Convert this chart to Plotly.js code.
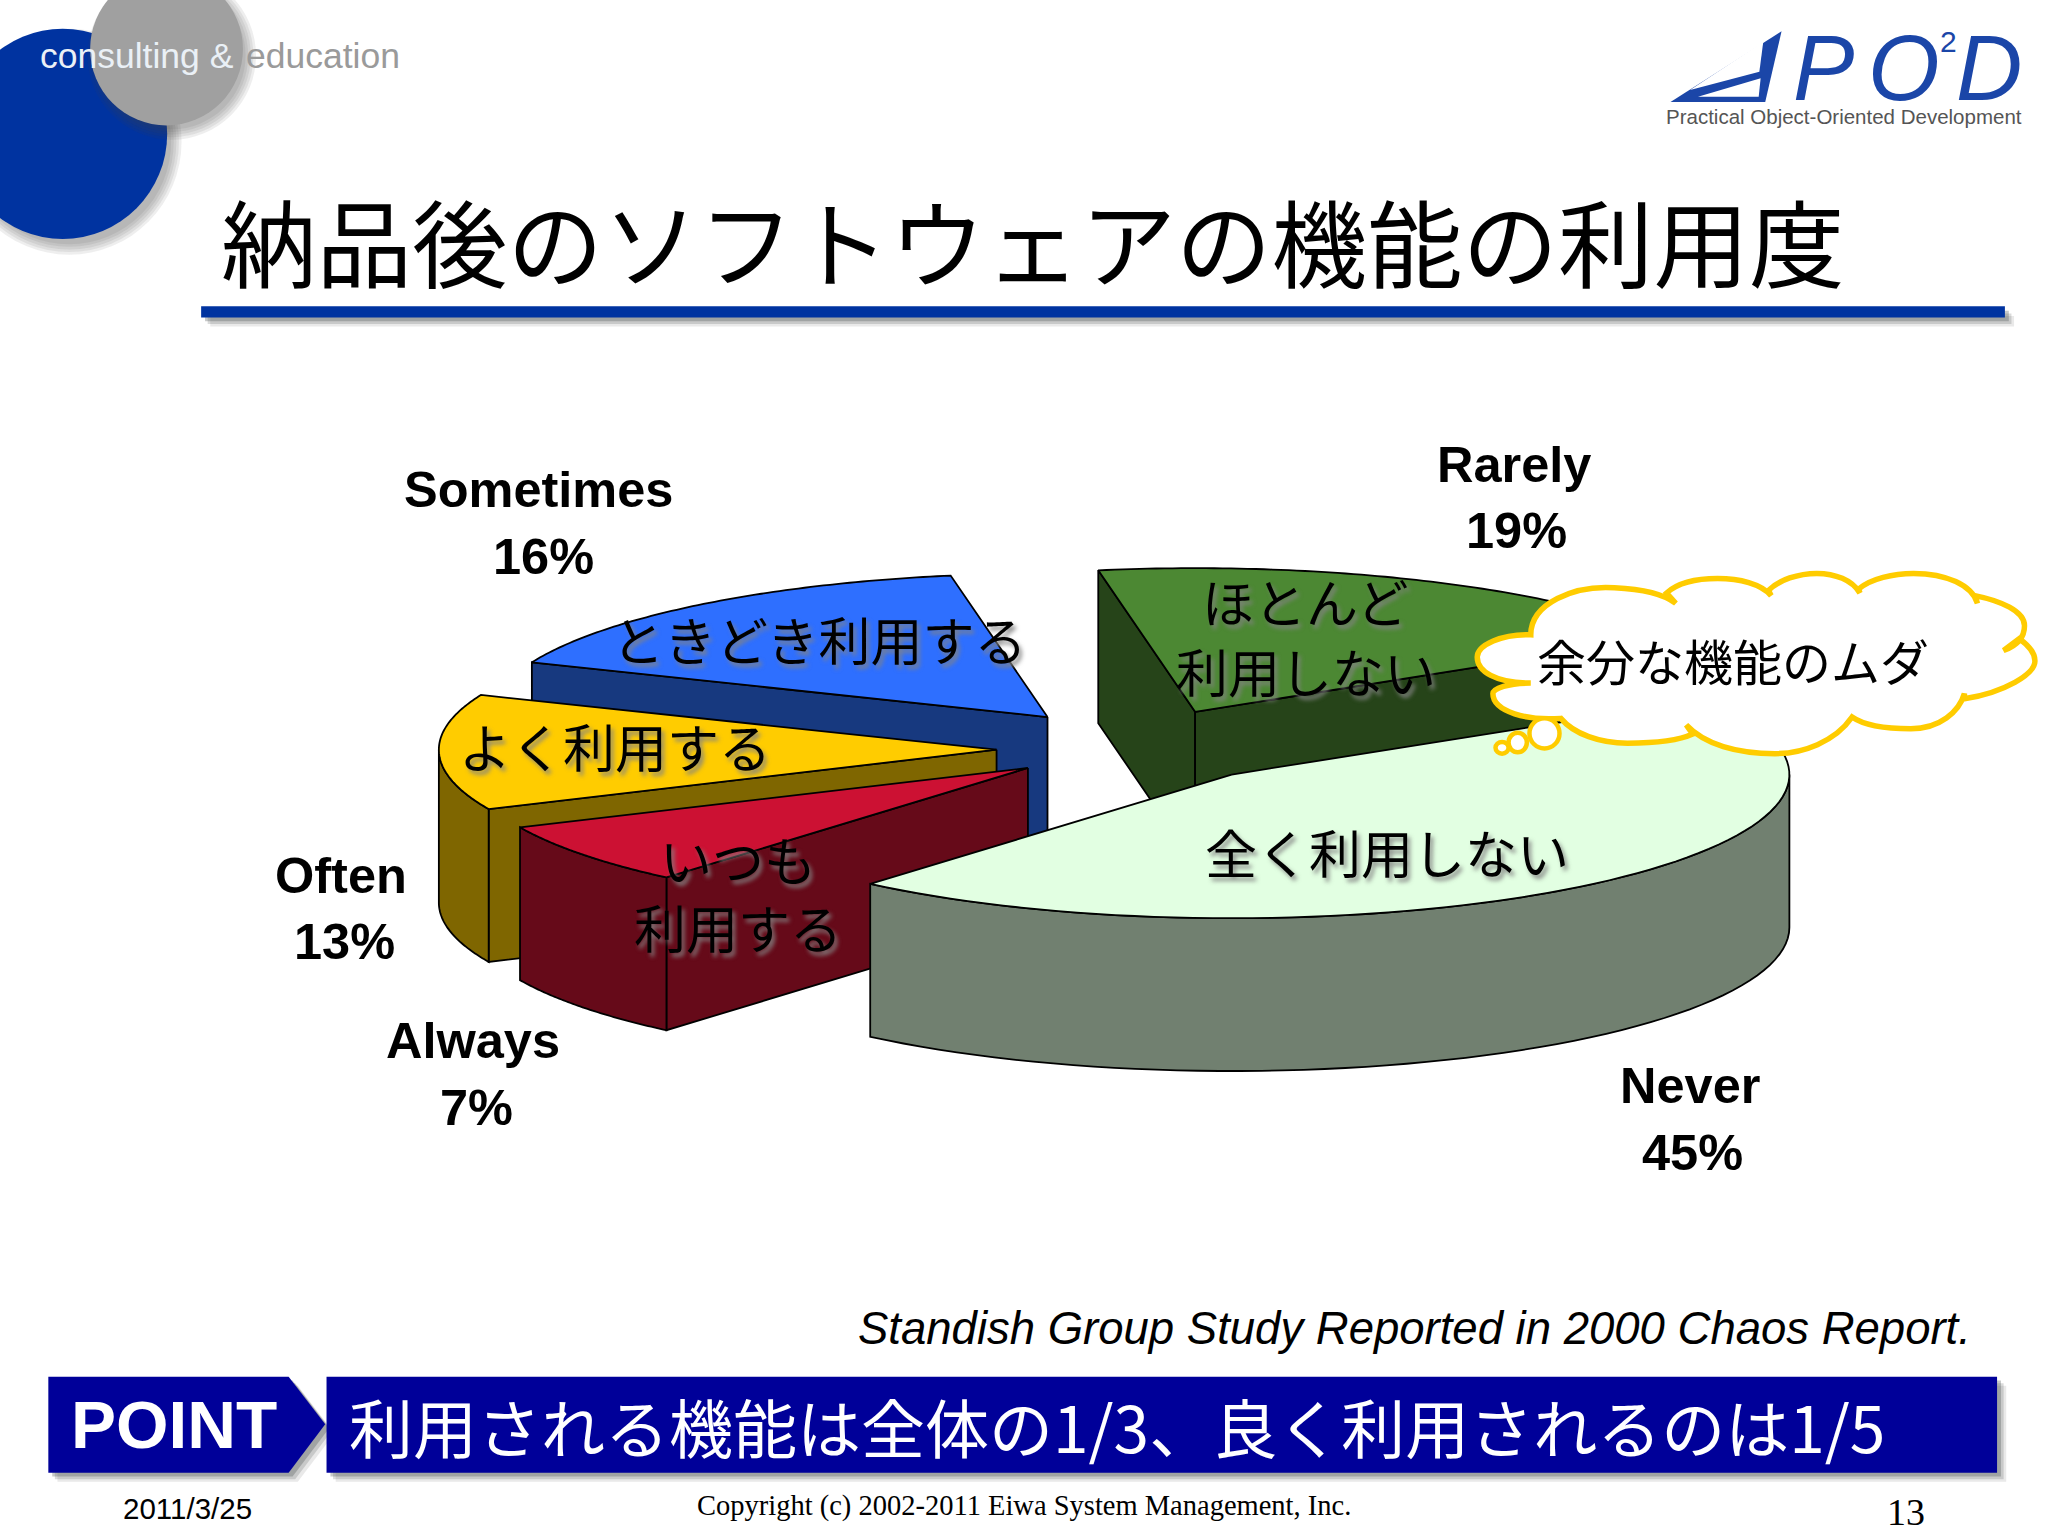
<!DOCTYPE html>
<html><head><meta charset="utf-8">
<script src="https://cdn.plot.ly/plotly-3.0.1.min.js"></script>
<style>html,body{margin:0;padding:0;background:#fff}</style></head>
<body><div id="chart" style="width:2048px;height:1536px"></div>
<script>
// ---- chart data ----
const categories = ["Always","Often","Sometimes","Rarely","Never"];
const values = [7,13,16,19,45];
const jpLabels = ["いつも\n利用する","よく利用する","ときどき利用する","ほとんど\n利用しない","全く利用しない"];
const topColors = ["#CC1133","#FFCC00","#2E6FFF","#4C8833","#E2FFE2"];
const wallColors = ["#660A19","#7F6600","#17397F","#264419","#718070"];
// ---- pie projection (layout, in slide units) ----
const apexX = [787,763,802,915,943], apexY = [588,574,549,545,593];
const RX = 427, RY = 110, DEPTH = 117, START = 130.4;
const catPos = [[362,797,365,848],[261,670,264,721],[412,375,416,426],[1159,356,1161,406],[1294,831,1296,882]];
const jpPos = [[565,657,565,709],[471,571],[627,489],[999,460,1000,513],[1062,652]];
const drawOrder = [2,3,1,0,4];

const rad = d => d*Math.PI/180;
const total = values.reduce((a,b)=>a+b,0);
let acc = START;
const spans = values.map(v => { const s=[acc, acc+v/total*360]; acc=s[1]; return s; });
const traces = [];
function poly(xs,ys,color,name){
  traces.push({type:"scatter",mode:"lines",x:xs,y:ys,fill:"toself",fillcolor:color,name,
    line:{color:"#000",width:1.8,simplify:false},hoverinfo:"name",showlegend:false});
}
drawOrder.forEach(i=>{
  const [t0,t1]=spans[i], ax=apexX[i], ay=apexY[i];
  const px=t=>ax+RX*Math.cos(rad(t)), py=t=>ay+RY*Math.sin(rad(t));
  const radial=t=>poly([ax,px(t),px(t),ax,ax],[ay,py(t),py(t)+DEPTH,ay+DEPTH,ay],wallColors[i],categories[i]);
  if(-Math.cos(rad(t0))>0) radial(t0);
  if(Math.cos(rad(t1))>0) radial(t1);
  for(let k=-1;k<3;k++){
    const a=Math.max(t0,360*k), b=Math.min(t1,360*k+180);
    if(b>a){
      const xs=[],ys=[];
      for(let j=0;j<=60;j++){const t=a+(b-a)*j/60;xs.push(px(t));ys.push(py(t));}
      for(let j=60;j>=0;j--){const t=a+(b-a)*j/60;xs.push(px(t));ys.push(py(t)+DEPTH);}
      xs.push(xs[0]);ys.push(ys[0]);
      poly(xs,ys,wallColors[i],categories[i]);
    }
  }
  const xs=[ax],ys=[ay];
  for(let j=0;j<=80;j++){const t=t0+(t1-t0)*j/80;xs.push(px(t));ys.push(py(t));}
  xs.push(ax);ys.push(ay);
  poly(xs,ys,topColors[i],categories[i]);
});

const SANS="Liberation Sans, Arial, sans-serif", SERIF="Liberation Serif, Times New Roman, serif",
      JP="Noto Sans CJK JP, sans-serif";
const ann=[];
function T(text,x,y,size,color,family,extra){
  ann.push(Object.assign({xref:"x",yref:"y",x,y,text,showarrow:false,xanchor:"center",yanchor:"middle",
    font:{size,color,family}},extra||{}));
}
const JSH="3px 4px 4px rgba(130,130,130,0.85)";
categories.forEach((c,i)=>{
  const p=catPos[i];
  T("<b>"+c+"</b>",p[0],p[1],50.5,"#000",SANS);
  T("<b>"+values[i]+"%</b>",p[2],p[3],50.5,"#000",SANS);
  jpLabels[i].split("\n").forEach((l,k)=>{
    ann.push({xref:"x",yref:"y",x:jpPos[i][k*2],y:jpPos[i][k*2+1],text:l,showarrow:false,xanchor:"center",yanchor:"middle",
      font:{size:52,color:"#000",family:JP,shadow:JSH}});
  });
});
T("納品後のソフトウェアの機能の利用度",791,183,95.5,"#000",JP);
T("余分な機能のムダ",1327,505,49,"#000",JP);
T("<i>Standish Group Study Reported in 2000 Chaos Report.</i>",1083,1017,45.5,"#000",SANS);
T("<b>POINT</b>",133,1091,67.5,"#fff",SANS);
T("利用される機能は全体の1/3、良く利用されるのは1/5",855,1091,64,"#fff",JP);
T("2011/3/25",143.5,1155,29.5,"#000",SANS);
T("Copyright (c) 2002-2011 Eiwa System Management, Inc.",784,1153,28.5,"#000",SERIF);
T("13",1459,1158,38,"#000",SERIF);
T("consulting &",105,43,35.5,"#EAF0F6",SANS);
T("education",247,43,35.5,"#9A9A9A",SANS);
T("<i>P</i>",1396,52,92,"#1B46A8",SANS);
T("<i>O</i>",1458,52,92,"#1B46A8",SANS);
T("2",1492,32,30,"#1B46A8",SANS);
T("<i>D</i>",1523,52,92,"#1B46A8",SANS);
T("Practical Object-Oriented Development",1412,89,20.5,"#555",SANS);

const shapes=[];
function S(o){shapes.push(Object.assign({xref:"x",yref:"y",layer:"below",line:{width:0}},o));}
function softCircle(x0,y0,x1,y1,dx,dy){
  [6,4,2,0,-2].forEach(g=>S({type:"circle",x0:x0+dx-g,y0:y0+dy-g,x1:x1+dx+g,y1:y1+dy+g,fillcolor:"rgba(70,70,70,0.09)"}));
}
function softRect(path,d){
  [[d+2,.12],[d,.2],[d-2,.3]].forEach(([o,a])=>S({type:"path",path:path(o),fillcolor:`rgba(70,75,75,${a})`}));
}
softCircle(-32,22,128,183,5,6);
S({type:"circle",x0:-32,y0:22,x1:128,y1:183,fillcolor:"#0033A0"});
softCircle(69,-21,186,96,4,5);
S({type:"circle",x0:69,y0:-21,x1:186,y1:96,fillcolor:"#A0A0A0"});
// title rule
softRect(o=>`M${154+o},${235+o} H${1535+o} V${243+o} H${154+o} Z`,5);
S({type:"rect",x0:154,y0:234.5,x1:1535,y1:243,fillcolor:"#0033A0"});
// bottom bands
softRect(o=>`M${37+o},${1054+o} H${221+o} L${249+o},${1090.5+o} L${221+o},${1127.5+o} H${37+o} Z`,5);
S({type:"path",path:"M37,1054 H221 L249,1090.5 L221,1127.5 H37 Z",fillcolor:"#000099"});
softRect(o=>`M${250+o},${1054+o} H${1529+o} V${1127.5+o} H${250+o} Z`,5);
S({type:"rect",x0:250,y0:1054,x1:1529,y1:1127.5,fillcolor:"#000099"});
// logo triangle
S({type:"path",path:"M1279,78 L1364,24 L1351.5,78 Z",fillcolor:"#1B46A8"});
S({type:"path",path:"M1294,69 L1350,32 L1347,55 Z",fillcolor:"#fff"});
S({type:"path",path:"M1300,74 L1348,60 L1346.5,74 Z",fillcolor:"#fff"});
// thought cloud
const Y="#FFCC00";
S({type:"path",layer:"above",fillcolor:"#fff",line:{color:Y,width:5.5},path:
 "M1172,486 C1172,462 1205,448 1236,450 C1258,451 1274,455 1283,462 L1276,454 "+
 "C1285,446 1300,443 1315,443 C1332,443 1348,447 1356,456 L1354,452 "+
 "C1362,444 1377,439 1391,439 C1405,439 1418,444 1424,454 L1423,451 "+
 "C1432,443 1450,439 1465,439 C1490,439 1510,448 1514,462 L1512,456 "+
 "C1532,460 1550,468 1550,479 C1550,488 1545,494 1534,498 L1546,489 "+
 "C1553,494 1558,500 1558,506 C1558,516 1535,530 1504,535 L1504,531 "+
 "C1500,545 1485,558 1463,558 C1445,558 1428,556 1418,549 "+
 "C1405,568 1380,577 1359,577 C1330,577 1305,570 1291,555 L1296,562 "+
 "C1283,568 1265,569 1246,569 C1225,569 1205,562 1195,550 "+
 "C1170,552 1143,545 1143,531 C1143,527 1155,523 1172,523 "+
 "C1145,523 1131,514 1131,503 C1131,494 1150,485 1172,486 Z"});
[[1171,550,1194,573],[1155,561,1169,576],[1145,568,1155,577]].forEach(c=>
 S({type:"circle",layer:"above",x0:c[0],y0:c[1],x1:c[2],y1:c[3],fillcolor:"#fff",line:{color:Y,width:4.5}}));

Plotly.newPlot("chart",traces,{
  width:2048,height:1536,margin:{l:0,r:0,t:0,b:0},paper_bgcolor:"#fff",plot_bgcolor:"rgba(0,0,0,0)",
  showlegend:false,hovermode:false,
  xaxis:{range:[0,1568],visible:false,fixedrange:true},
  yaxis:{range:[1176,0],visible:false,fixedrange:true},
  shapes,annotations:ann
},{staticPlot:true,displayModeBar:false});
</script></body></html>
